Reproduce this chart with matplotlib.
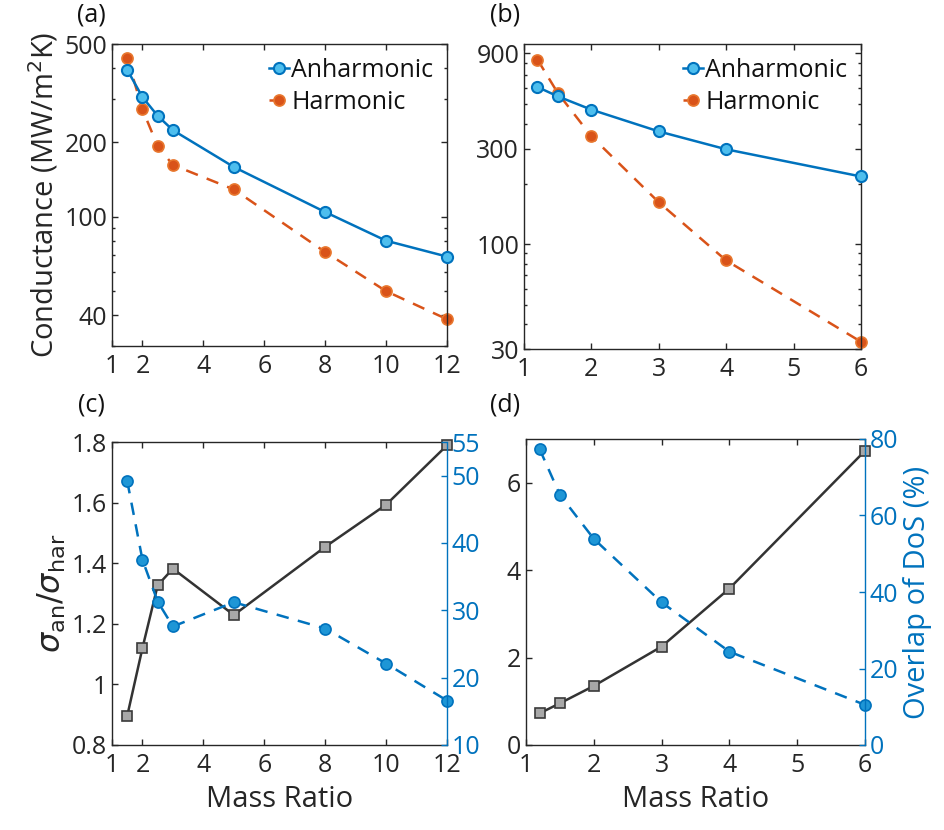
import matplotlib
matplotlib.use("Agg")
import matplotlib.pyplot as plt
from matplotlib.ticker import FixedLocator, FixedFormatter, LogLocator, NullFormatter

plt.rcParams['font.family'] = ['Open Sans', 'DejaVu Sans']
plt.rcParams['mathtext.fontset'] = 'dejavusans'

# ---------------- data ----------------
# panel (a)
xa = [1.5, 2, 2.5, 3, 5, 8, 10, 12]
anh_a = [393, 305, 256, 224, 159, 104.5, 80, 69]
har_a = [439, 272, 193, 162, 129, 72, 50, 38.5]
# panel (b)
xb = [1.2, 1.5, 2, 3, 4, 6]
anh_b = [610, 548, 470, 366, 298, 218]
har_b = [836, 570, 346, 162, 83, 32.6]
# panel (c)
ratio_c = [0.896, 1.12, 1.327, 1.382, 1.229, 1.454, 1.593, 1.789]
overlap_c = [49.2, 37.5, 31.3, 27.6, 31.2, 27.3, 22.1, 16.6]
# panel (d)
ratio_d = [0.725, 0.954, 1.351, 2.252, 3.58, 6.73]
overlap_d = [77.4, 65.4, 53.9, 37.3, 24.4, 10.5]

BLUE = '#0072BD'
LBLUE = '#4DBEEE'
ORANGE = '#D95319'
DARK = '#262626'
LINEK = '#333333'

TICKFS = 18
LABFS = 21
LW = 1.8
DASH = (5, 3.8)

fig = plt.figure(figsize=(9.45, 8.3), dpi=100)

def px(l, r, t, b):
    W, H = 945.0, 830.0
    return [l / W, 1 - b / H, (r - l) / W, (b - t) / H]

def style(ax, right=True):
    for s in ax.spines.values():
        s.set_color(DARK)
        s.set_linewidth(1.0)
    ax.tick_params(which='both', direction='in', colors=DARK, labelsize=TICKFS,
                   top=True, right=right, width=1.0)
    ax.tick_params(which='major', length=4)
    ax.tick_params(which='minor', length=2.5)
    ax.tick_params(axis='x', pad=6)

def plot_pair(ax, x, anh, har):
    ax.plot(x, anh, '-', color=BLUE, lw=LW, marker='o', ms=8,
            mfc=LBLUE, mec=BLUE, mew=1.5, label='Anharmonic', zorder=3, clip_on=False)
    ax.plot(x, har, '--', color=ORANGE, lw=LW, dashes=DASH, marker='o', ms=8,
            mfc=ORANGE, mec='#E8772E', mew=1.2, label='Harmonic', zorder=2, clip_on=False)
    leg = ax.legend(loc='upper right', frameon=False, fontsize=TICKFS, handlelength=0.8,
                    handletextpad=0.1, borderaxespad=0.15, labelspacing=0.3)
    for t in leg.get_texts():
        t.set_color('#111111')

# ---------------- (a) ----------------
axa = fig.add_axes(px(112, 447, 44, 346))
plot_pair(axa, xa, anh_a, har_a)
axa.set_yscale('log')
axa.set_xlim(1, 12)
axa.set_ylim(30, 500)
axa.xaxis.set_major_locator(FixedLocator([1, 2, 4, 6, 8, 10, 12]))
axa.yaxis.set_major_locator(FixedLocator([40, 100, 200, 500]))
axa.yaxis.set_major_formatter(FixedFormatter(['40', '100', '200', '500']))
axa.yaxis.set_minor_locator(LogLocator(base=10, subs=range(2, 10)))
axa.yaxis.set_minor_formatter(NullFormatter())
style(axa)
axa.set_ylabel(r'Conductance (MW/m$^2$K)', fontsize=LABFS, color=DARK, labelpad=3)

# ---------------- (b) ----------------
axb = fig.add_axes(px(524, 861, 44, 349))
plot_pair(axb, xb, anh_b, har_b)
axb.set_yscale('log')
axb.set_xlim(1, 6)
axb.set_ylim(30, 1000)
axb.xaxis.set_major_locator(FixedLocator([1, 2, 3, 4, 5, 6]))
axb.yaxis.set_major_locator(FixedLocator([30, 100, 300, 900]))
axb.yaxis.set_major_formatter(FixedFormatter(['30', '100', '300', '900']))
axb.yaxis.set_minor_locator(LogLocator(base=10, subs=range(2, 10)))
axb.yaxis.set_minor_formatter(NullFormatter())
style(axb)

# ---------------- (c) ----------------
axc = fig.add_axes(px(112, 447, 442, 745))
axc.plot(xa, ratio_c, '-', color=LINEK, lw=LW, marker='s', ms=6.5,
         mfc='#A8A8A8', mec='#3A3A3A', mew=1.2, zorder=3, clip_on=False)
axc.set_xlim(1, 12)
axc.set_ylim(0.8, 1.8)
axc.xaxis.set_major_locator(FixedLocator([1, 2, 4, 6, 8, 10, 12]))
axc.yaxis.set_major_locator(FixedLocator([0.8, 1.0, 1.2, 1.4, 1.6, 1.8]))
axc.yaxis.set_major_formatter(FixedFormatter(['0.8', '1', '1.2', '1.4', '1.6', '1.8']))
style(axc, right=False)
axc.set_ylabel(r'$\sigma_{\mathrm{an}}/\sigma_{\mathrm{har}}$', fontsize=LABFS + 2, color=DARK, labelpad=2)
axc.set_xlabel('Mass Ratio', fontsize=LABFS, color=DARK, labelpad=5)
axc2 = axc.twinx()
axc2.plot(xa, overlap_c, '--', color=BLUE, lw=LW, dashes=DASH, marker='o', ms=8,
          mfc='#1E96D6', mec=BLUE, mew=1.2, zorder=2, clip_on=False)
axc2.set_ylim(10, 55)
axc2.yaxis.set_major_locator(FixedLocator([10, 20, 30, 40, 50, 55]))
axc2.tick_params(axis='y', direction='in', colors=BLUE, labelsize=TICKFS, length=4, width=1.0)
for s in axc2.spines.values():
    s.set_visible(False)
axc2.spines['right'].set_visible(True)
axc2.spines['right'].set_color(BLUE)
axc2.spines['right'].set_linewidth(1.0)
axc.spines['right'].set_visible(False)

# ---------------- (d) ----------------
axd = fig.add_axes(px(526, 865, 439, 745))
axd.plot(xb, ratio_d, '-', color=LINEK, lw=LW, marker='s', ms=6.5,
         mfc='#A8A8A8', mec='#3A3A3A', mew=1.2, zorder=3, clip_on=False)
axd.set_xlim(1, 6)
axd.set_ylim(0, 7)
axd.xaxis.set_major_locator(FixedLocator([1, 2, 3, 4, 5, 6]))
axd.yaxis.set_major_locator(FixedLocator([0, 2, 4, 6]))
style(axd, right=False)
axd.set_xlabel('Mass Ratio', fontsize=LABFS, color=DARK, labelpad=5)
axd2 = axd.twinx()
axd2.plot(xb, overlap_d, '--', color=BLUE, lw=LW, dashes=DASH, marker='o', ms=8,
          mfc='#1E96D6', mec=BLUE, mew=1.2, zorder=2, clip_on=False)
axd2.set_ylim(0, 80)
axd2.yaxis.set_major_locator(FixedLocator([0, 20, 40, 60, 80]))
axd2.tick_params(axis='y', direction='in', colors=BLUE, labelsize=TICKFS, length=4, width=1.0)
for s in axd2.spines.values():
    s.set_visible(False)
axd2.spines['right'].set_visible(True)
axd2.spines['right'].set_color(BLUE)
axd2.spines['right'].set_linewidth(1.0)
axd.spines['right'].set_visible(False)
axd2.set_ylabel('Overlap of DoS (%)', fontsize=LABFS, color=BLUE, labelpad=3)

# panel letters
for (x, y, s) in [(91, 15, '(a)'), (505, 15, '(b)'), (91, 405, '(c)'), (505, 405, '(d)')]:
    fig.text(x / 945, 1 - y / 830, s, fontsize=18, color='#111111', ha='center', va='center')

fig.savefig('out.png', dpi=100)
